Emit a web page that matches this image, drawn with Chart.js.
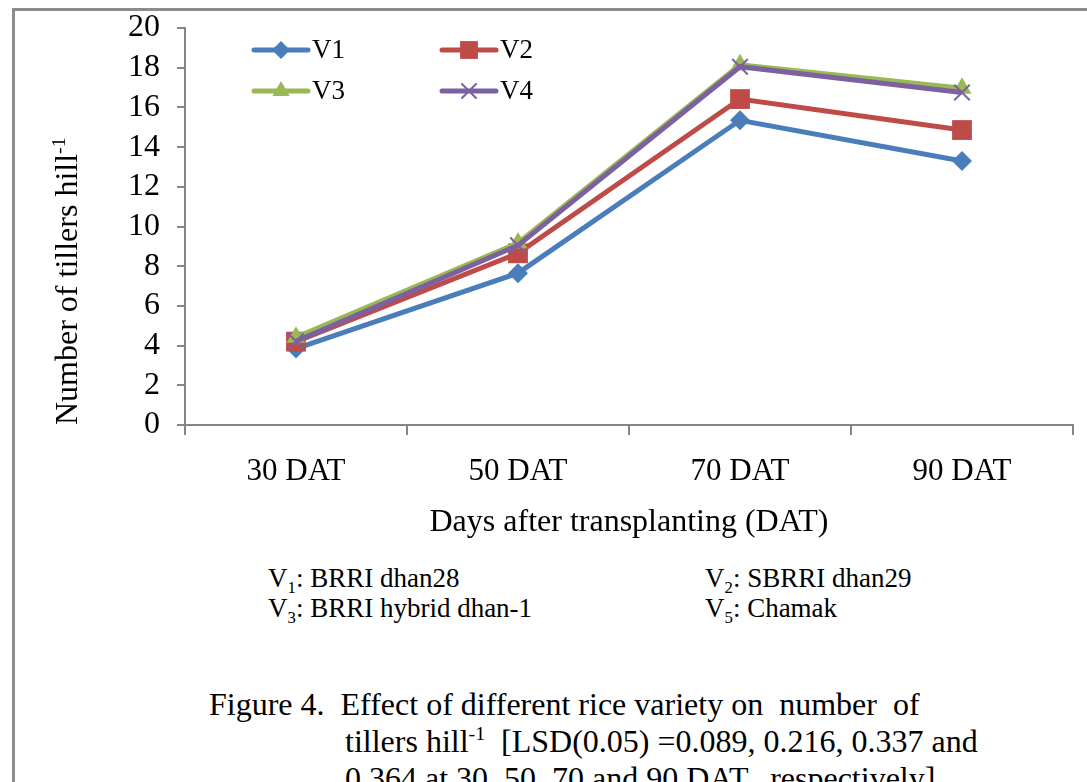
<!DOCTYPE html>
<html>
<head>
<meta charset="utf-8">
<script src="https://cdn.jsdelivr.net/npm/chart.js"></script>
<style>
  body { margin: 0; background: #fff; }
  #page { position: relative; width: 1087px; height: 782px; overflow: hidden; background: #fff;
          font-family: "Liberation Serif", serif; color: #000; }
  #frame { position: absolute; left: 12px; top: 8px; width: 1200px; height: 900px;
           border-left: 3px solid #8c8c8c; border-top: 3px solid #8c8c8c; }
  #wrap { position: absolute; left: 0; top: 0; }
  .txt { position: absolute; white-space: pre; line-height: 1; }
  #ytitle { font-size: 32px; transform: rotate(-90deg); transform-origin: 0 0; left: 50px; top: 425px; }
  .note { font-size: 27px; }
  .cap { font-size: 32px; }
  sub, sup { font-size: 62%; line-height: 0; }
</style>
</head>
<body>
<div id="page">
  <div id="frame"></div>
  <div id="wrap"><canvas id="chart" width="1087" height="560"></canvas></div>
  <div class="txt" id="ytitle">Number of tillers hill<sup>-1</sup></div>
  <div class="txt note" style="left:268px; top:565px;">V<sub>1</sub>: BRRI dhan28</div>
  <div class="txt note" style="left:705px; top:565px;">V<sub>2</sub>: SBRRI dhan29</div>
  <div class="txt note" style="left:268px; top:595px;">V<sub>3</sub>: BRRI hybrid dhan-1</div>
  <div class="txt note" style="left:705px; top:595px;">V<sub>5</sub>: Chamak</div>
  <div class="txt cap" style="left:209px; top:688px;">Figure 4.  Effect of different rice variety on  number  of</div>
  <div class="txt cap" style="left:345px; top:725px;">tillers hill<sup>-1</sup>  [LSD(0.05) =0.089, 0.216, 0.337 and</div>
  <div class="txt cap" style="left:345px; top:762px;">0.364 at 30, 50, 70 and 90 DAT,  respectively]</div>
</div>
<script>
var categories = ['30 DAT', '50 DAT', '70 DAT', '90 DAT'];
var v1 = [3.85, 7.65, 15.35, 13.3];
var v2 = [4.2, 8.65, 16.42, 14.86];
var v3 = [4.42, 9.17, 18.15, 16.97];
var v4 = [4.22, 9.05, 18.05, 16.75];
var yTicks = [0, 2, 4, 6, 8, 10, 12, 14, 16, 18, 20];

var serif = '"Liberation Serif", serif';
var axisColor = '#868686';

function series(label, data, color, style, radius, order) {
    return {
        label: label,
        data: data,
        borderColor: color,
        backgroundColor: color,
        borderWidth: 5,
        pointStyle: style,
        pointRadius: radius,
        pointHoverRadius: radius,
        pointBackgroundColor: color,
        pointBorderColor: color,
        pointBorderWidth: style === 'crossRot' ? 2 : 0,
        tension: 0,
        order: order
    };
}

// legend drawn inside the plot, two columns like the original
var innerLegend = {
    id: 'innerLegend',
    afterDraw: function(chart) {
        var ctx = chart.ctx;
        var slots = [[254, 50], [442, 50], [254, 91], [442, 91]];
        chart.data.datasets.forEach(function(ds, i) {
            var x = slots[i][0], y = slots[i][1];
            ctx.save();
            ctx.strokeStyle = ds.borderColor;
            ctx.lineWidth = 5;
            ctx.lineCap = 'round';
            ctx.beginPath();
            ctx.moveTo(x, y);
            ctx.lineTo(x + 54, y);
            ctx.stroke();
            ctx.fillStyle = ds.pointBackgroundColor;
            ctx.strokeStyle = ds.pointBorderColor;
            ctx.lineWidth = ds.pointBorderWidth;
            Chart.helpers.drawPoint(ctx, {
                pointStyle: ds.pointStyle,
                radius: ds.pointRadius * 0.9,
                rotation: 0,
                borderWidth: ds.pointBorderWidth
            }, x + 27, y);
            ctx.fillStyle = '#000';
            ctx.font = '27px ' + serif;
            ctx.textBaseline = 'middle';
            ctx.fillText(ds.label, x + 58, y + 1);
            ctx.restore();
        });
    }
};

new Chart(document.getElementById('chart').getContext('2d'), {
    type: 'line',
    data: {
        labels: categories,
        datasets: [
            series('V1', v1, '#4a7ebb', 'rectRot', 10, 3),
            series('V2', v2, '#be4b48', 'rect', 14, 2),
            series('V3', v3, '#98b954', 'triangle', 11, 1),
            series('V4', v4, '#7d60a0', 'crossRot', 11, 0)
        ]
    },
    options: {
        responsive: false,
        animation: false,
        layout: { padding: { top: 28, right: 6, left: 0, bottom: 0 } },
        plugins: {
            legend: { display: false },
            tooltip: { enabled: false }
        },
        scales: {
            x: {
                offset: true,
                grid: { offset: true, drawOnChartArea: false, tickLength: 10, color: axisColor, lineWidth: 2 },
                border: { color: axisColor, width: 2 },
                ticks: { color: '#000', font: { family: serif, size: 31 }, padding: 18 },
                title: {
                    display: true,
                    text: 'Days after transplanting (DAT)',
                    color: '#000',
                    font: { family: serif, size: 32 },
                    padding: { top: 10, bottom: 18 }
                },
                afterFit: function(s) { s.height = 135; s.paddingLeft = 0; s.paddingRight = 0; }
            },
            y: {
                min: 0,
                max: 20,
                afterBuildTicks: function(s) { s.ticks = yTicks.map(function(v) { return { value: v }; }); },
                grid: { drawOnChartArea: false, tickLength: 8, color: axisColor, lineWidth: 2 },
                border: { color: axisColor, width: 2 },
                ticks: { color: '#000', font: { family: serif, size: 32 }, padding: 17, autoSkip: false },
                afterFit: function(s) { s.width = 185; s.paddingTop = 0; s.paddingBottom = 0; }
            }
        }
    },
    plugins: [innerLegend]
});
</script>
</body>
</html>
